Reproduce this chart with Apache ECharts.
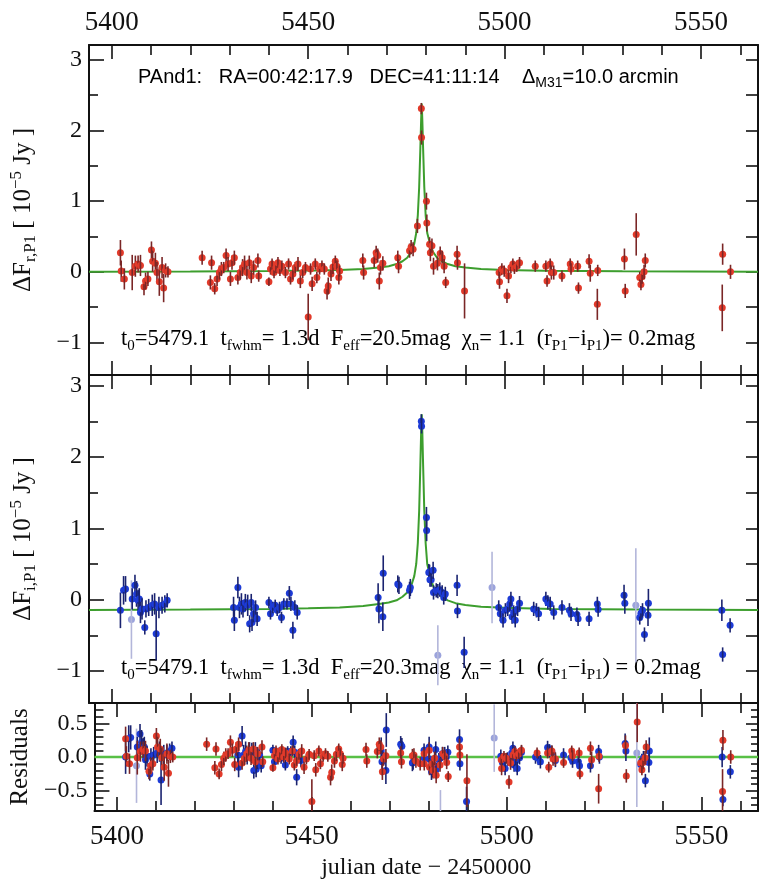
<!DOCTYPE html>
<html>
<head>
<meta charset="utf-8">
<script src="https://cdn.jsdelivr.net/npm/echarts@6/dist/echarts.min.js"></script>
<style>
  html, body { margin: 0; padding: 0; background: #fff; }
  #chart { width: 759px; height: 881px; }
</style>
</head>
<body>
<div id="chart"></div>
<script>
// light curve of PAnd1: [jd, flux, err, residual]
const redPts = [
  [5402.2, 0.27, 0.18, 0.27], [5402.4, 0.01, 0.15, 0.01], [5403.2, -0.10, 0.15, -0.10],
  [5405.2, -0.01, 0.25, -0.01], [5406.0, 0.08, 0.15, 0.08], [5406.7, 0.11, 0.12, 0.11],
  [5407.3, 0.09, 0.15, 0.09], [5408.2, -0.21, 0.12, -0.21], [5408.6, -0.13, 0.12, -0.13],
  [5409.2, -0.10, 0.10, -0.10], [5410.1, 0.31, 0.12, 0.31], [5410.4, 0.15, 0.15, 0.15],
  [5411.1, 0.12, 0.15, 0.12], [5411.5, -0.01, 0.15, -0.01], [5412.1, -0.14, 0.20, -0.15],
  [5412.8, 0.06, 0.15, 0.05], [5413.2, -0.23, 0.20, -0.24], [5413.7, 0.02, 0.10, 0.01],
  [5414.3, 0.00, 0.08, 0.00],
  [5423.0, 0.20, 0.10, 0.19], [5425.1, -0.15, 0.10, -0.16], [5425.4, 0.13, 0.10, 0.12],
  [5426.2, -0.24, 0.08, -0.25], [5426.8, -0.10, 0.10, -0.11], [5427.4, -0.01, 0.10, -0.02],
  [5427.9, 0.04, 0.10, 0.03], [5428.5, 0.06, 0.08, 0.05], [5429.1, 0.23, 0.10, 0.22],
  [5429.6, 0.11, 0.10, 0.10], [5430.2, -0.10, 0.10, -0.11], [5430.6, 0.13, 0.10, 0.12],
  [5431.2, 0.20, 0.10, 0.19], [5432.1, -0.08, 0.10, -0.09], [5432.7, -0.01, 0.10, -0.02],
  [5433.3, 0.06, 0.12, 0.05], [5433.8, 0.11, 0.12, 0.10], [5434.4, -0.01, 0.10, -0.02],
  [5435.0, 0.13, 0.10, 0.12], [5435.5, -0.06, 0.10, -0.07], [5436.1, 0.06, 0.10, 0.05],
  [5437.2, 0.16, 0.10, 0.15], [5437.4, -0.06, 0.08, -0.07],
  [5440.0, -0.14, 0.06, -0.16], [5440.4, 0.04, 0.08, 0.02], [5440.8, 0.11, 0.08, 0.09],
  [5441.3, -0.01, 0.08, -0.03], [5441.8, 0.06, 0.08, 0.04], [5442.3, 0.13, 0.08, 0.11],
  [5442.8, 0.02, 0.08, 0.00], [5443.3, 0.08, 0.08, 0.06], [5444.2, -0.01, 0.08, -0.03],
  [5445.0, 0.11, 0.08, 0.09], [5445.5, -0.10, 0.08, -0.12], [5446.1, -0.03, 0.08, -0.05],
  [5446.7, 0.06, 0.08, 0.04], [5447.4, 0.11, 0.10, 0.09], [5448.0, -0.13, 0.10, -0.15],
  [5448.6, -0.01, 0.08, -0.03], [5449.3, 0.06, 0.08, 0.04], [5450.0, -0.64, 0.33, -0.66],
  [5450.6, 0.04, 0.08, 0.02], [5451.0, -0.17, 0.10, -0.19], [5451.8, 0.11, 0.08, 0.09],
  [5452.2, -0.08, 0.08, -0.10], [5452.9, 0.04, 0.08, 0.01], [5453.5, 0.08, 0.08, 0.05],
  [5454.1, 0.04, 0.08, 0.01], [5454.8, -0.27, 0.12, -0.30], [5455.1, -0.20, 0.12, -0.23],
  [5455.8, -0.03, 0.10, -0.06], [5456.3, 0.07, 0.10, 0.04], [5456.9, 0.15, 0.08, 0.12],
  [5457.3, 0.08, 0.08, 0.05], [5457.8, -0.08, 0.10, -0.11], [5458.0, 0.01, 0.08, -0.02],
  [5463.9, 0.16, 0.10, 0.11], [5464.1, -0.01, 0.10, -0.06], [5466.8, 0.16, 0.10, 0.08],
  [5467.3, 0.27, 0.10, 0.19], [5467.7, 0.23, 0.10, 0.15], [5468.1, -0.13, 0.12, -0.22],
  [5468.4, 0.06, 0.10, -0.03], [5469.0, 0.12, 0.10, 0.02], [5472.8, 0.20, 0.10, 0.06],
  [5473.0, 0.08, 0.10, -0.07], [5475.8, 0.30, 0.10, 0.02], [5476.2, 0.35, 0.10, 0.03],
  [5476.7, 0.32, 0.10, -0.06], [5477.8, 0.65, 0.10, -0.10],
  [5478.8, 2.31, 0.08, 0.05], [5478.85, 1.90, 0.10, -0.10],
  [5480.1, 1.00, 0.12, 0.10], [5480.2, 0.69, 0.12, -0.15], [5480.9, 0.39, 0.10, -0.10],
  [5481.1, 0.27, 0.12, -0.20], [5481.5, 0.37, 0.10, -0.02], [5481.9, 0.08, 0.12, -0.27],
  [5482.9, 0.12, 0.10, -0.12], [5483.6, 0.26, 0.10, 0.05], [5484.1, 0.20, 0.10, 0.01],
  [5484.6, 0.08, 0.10, -0.08], [5485.0, -0.15, 0.08, -0.29], [5487.9, 0.25, 0.12, 0.15],
  [5488.0, 0.13, 0.10, 0.03], [5489.8, -0.27, 0.39, -0.35],
  [5498.6, -0.01, 0.08, -0.04], [5498.7, -0.14, 0.10, -0.17], [5499.3, 0.04, 0.08, 0.01],
  [5499.9, 0.01, 0.08, -0.02], [5500.6, -0.34, 0.10, -0.37], [5501.0, -0.06, 0.10, -0.09],
  [5501.6, 0.06, 0.08, 0.03], [5502.1, 0.11, 0.08, 0.08], [5502.5, 0.05, 0.08, 0.02],
  [5503.1, 0.08, 0.08, 0.05], [5503.8, 0.13, 0.08, 0.10], [5507.8, 0.08, 0.08, 0.06],
  [5510.5, 0.08, 0.08, 0.06], [5510.8, -0.13, 0.08, -0.15], [5511.6, 0.11, 0.08, 0.09],
  [5511.9, -0.01, 0.10, -0.03], [5512.5, -0.01, 0.10, -0.03], [5514.6, -0.06, 0.08, -0.08],
  [5516.7, 0.11, 0.08, 0.09], [5516.9, 0.04, 0.08, 0.02], [5518.6, 0.08, 0.08, 0.06],
  [5518.8, -0.23, 0.08, -0.25], [5521.5, 0.15, 0.10, 0.13], [5521.8, -0.02, 0.12, -0.04],
  [5523.7, 0.02, 0.08, 0.01], [5523.6, -0.46, 0.22, -0.47], [5530.5, 0.18, 0.15, 0.17],
  [5530.7, -0.27, 0.10, -0.28], [5533.5, 0.53, 0.30, 0.52], [5534.4, -0.08, 0.08, -0.09],
  [5534.7, -0.18, 0.08, -0.19], [5535.0, -0.07, 0.10, -0.08], [5535.5, 0.00, 0.10, -0.01],
  [5535.8, 0.16, 0.10, 0.15], [5555.5, 0.25, 0.15, 0.25], [5555.4, -0.51, 0.33, -0.51],
  [5557.5, 0.00, 0.10, 0.00]
];

const bluePts = [
  [5402.2, -0.15, 0.25, 0.00], [5403.0, 0.13, 0.20, 0.27], [5403.5, 0.15, 0.18, 0.29],
  [5405.2, 0.01, 0.15, 0.15], [5405.9, 0.20, 0.15, 0.34], [5406.3, 0.08, 0.18, 0.22],
  [5406.7, -0.01, 0.15, 0.13], [5407.0, 0.01, 0.15, 0.15], [5407.3, -0.18, 0.15, -0.04],
  [5407.7, -0.13, 0.15, 0.01], [5408.4, -0.39, 0.10, -0.25], [5408.7, -0.13, 0.12, 0.01],
  [5409.4, -0.11, 0.12, 0.03], [5410.3, -0.08, 0.15, 0.06], [5410.9, -0.06, 0.15, 0.08],
  [5411.3, -0.48, 0.37, -0.34], [5412.0, -0.11, 0.15, 0.03], [5412.8, -0.08, 0.12, 0.06],
  [5413.5, -0.06, 0.12, 0.08], [5414.1, -0.01, 0.10, 0.13],
  [5431.0, -0.11, 0.15, 0.03], [5431.2, -0.29, 0.15, -0.15], [5432.1, 0.17, 0.15, 0.31],
  [5432.5, -0.11, 0.15, 0.03], [5433.0, -0.06, 0.15, 0.08], [5433.4, -0.13, 0.12, 0.01],
  [5434.0, -0.04, 0.12, 0.10], [5434.6, -0.08, 0.15, 0.06], [5435.1, -0.34, 0.12, -0.20],
  [5435.5, -0.04, 0.12, 0.10], [5435.7, -0.32, 0.12, -0.18], [5436.1, -0.20, 0.12, -0.06],
  [5436.6, -0.11, 0.10, 0.03], [5437.0, -0.27, 0.10, -0.13],
  [5440.0, -0.04, 0.08, 0.10], [5440.4, -0.20, 0.08, -0.07], [5441.0, -0.11, 0.08, 0.03],
  [5441.6, -0.08, 0.08, 0.06], [5442.1, -0.15, 0.08, -0.02], [5442.7, -0.11, 0.08, 0.03],
  [5443.2, -0.25, 0.08, -0.12], [5443.8, -0.06, 0.08, 0.08], [5444.6, -0.06, 0.08, 0.08],
  [5445.2, 0.09, 0.10, 0.22], [5445.6, -0.06, 0.10, 0.07], [5446.1, -0.43, 0.12, -0.30],
  [5446.6, -0.11, 0.10, 0.02], [5447.2, -0.18, 0.10, -0.05],
  [5467.8, 0.03, 0.20, 0.09], [5468.0, -0.13, 0.20, -0.07], [5469.0, -0.24, 0.20, -0.20],
  [5469.1, 0.37, 0.25, 0.40], [5472.8, 0.22, 0.12, 0.19], [5473.1, 0.20, 0.12, 0.16],
  [5475.8, 0.13, 0.12, -0.09], [5476.0, 0.17, 0.12, -0.07],
  [5478.8, 2.50, 0.10, 0.10], [5478.85, 2.43, 0.10, -0.02],
  [5480.1, 1.15, 0.15, 0.15], [5480.15, 0.97, 0.15, -0.03], [5480.7, 0.38, 0.12, -0.22],
  [5480.9, 0.39, 0.10, -0.11], [5481.0, 0.28, 0.10, -0.20], [5481.3, 0.28, 0.10, -0.12],
  [5481.8, 0.41, 0.12, 0.11], [5481.9, 0.10, 0.10, -0.19], [5482.6, 0.13, 0.10, -0.04],
  [5483.0, 0.12, 0.10, -0.01], [5483.5, 0.14, 0.10, 0.05], [5484.1, 0.10, 0.10, 0.05],
  [5484.5, 0.03, 0.10, 0.00], [5484.9, 0.08, 0.10, 0.07], [5487.9, 0.20, 0.15, 0.26],
  [5488.0, -0.16, 0.10, -0.10], [5489.7, -0.74, 0.22, -0.66],
  [5498.5, -0.11, 0.10, 0.01], [5498.9, -0.20, 0.10, -0.08], [5499.6, -0.29, 0.10, -0.17],
  [5500.2, -0.15, 0.10, -0.03], [5500.8, -0.13, 0.10, -0.01], [5501.3, -0.06, 0.10, 0.06],
  [5501.6, 0.01, 0.10, 0.13], [5501.9, -0.24, 0.10, -0.12], [5502.3, -0.18, 0.10, -0.06],
  [5502.7, -0.29, 0.10, -0.17], [5503.3, -0.13, 0.10, -0.01], [5503.8, -0.05, 0.10, 0.07],
  [5507.4, -0.13, 0.10, 0.00], [5508.1, -0.15, 0.10, -0.02], [5508.65, -0.20, 0.10, -0.07],
  [5510.5, 0.01, 0.10, 0.14], [5511.0, -0.04, 0.10, 0.09], [5511.6, -0.06, 0.10, 0.07],
  [5512.5, -0.18, 0.10, -0.05], [5514.6, -0.11, 0.10, 0.03], [5516.5, -0.15, 0.10, -0.01],
  [5516.9, -0.20, 0.10, -0.06], [5518.4, -0.21, 0.10, -0.07], [5518.7, -0.27, 0.10, -0.13],
  [5521.5, -0.27, 0.10, -0.13], [5523.6, -0.06, 0.10, 0.08], [5523.8, -0.14, 0.10, 0.00],
  [5530.4, 0.06, 0.15, 0.20], [5530.6, -0.05, 0.15, 0.09],
  [5534.4, -0.25, 0.10, -0.11], [5534.7, -0.19, 0.10, -0.05], [5535.1, -0.15, 0.10, -0.01],
  [5535.6, -0.49, 0.10, -0.35], [5536.5, -0.22, 0.15, -0.08], [5536.6, -0.05, 0.20, 0.09],
  [5555.3, -0.15, 0.15, 0.00], [5555.5, -0.77, 0.10, -0.63], [5557.4, -0.36, 0.10, -0.22]
];

// low-weight i-band points drawn faded
const faintPts = [
  [5405.0, -0.28, 0.55, -0.13], [5483.0, -0.78, 0.42, -0.91],
  [5496.8, 0.17, 0.50, 0.28], [5533.4, -0.08, 0.80, 0.06]
];

// fitted model curves: [jd, flux]
const rModel = [
  [5394.2, 0.0], [5420, 0.005], [5440, 0.012], [5452, 0.018], [5458, 0.025], [5464, 0.04],
  [5468, 0.06], [5470.5, 0.08], [5472.5, 0.11], [5474, 0.15], [5475.2, 0.2], [5476.2, 0.28],
  [5477.0, 0.4], [5477.5, 0.55], [5477.9, 0.8], [5478.25, 1.2], [5478.55, 1.75], [5478.75, 2.15],
  [5478.9, 2.38], [5479.05, 2.15], [5479.25, 1.75], [5479.55, 1.2], [5479.9, 0.8], [5480.3, 0.55],
  [5481.0, 0.4], [5481.8, 0.28], [5482.8, 0.2], [5484, 0.15], [5485.5, 0.11], [5487.5, 0.08],
  [5490, 0.06], [5494, 0.04], [5500, 0.025], [5510, 0.015], [5530, 0.007], [5564.5, 0.0]
];
const iModel = [
  [5394.2, -0.145], [5420, -0.14], [5440, -0.13], [5450, -0.12], [5458, -0.11], [5464, -0.09],
  [5468, -0.06], [5470.5, -0.04], [5472.5, -0.01], [5474, 0.04], [5475.2, 0.1], [5476.2, 0.19],
  [5477.0, 0.33], [5477.5, 0.5], [5477.9, 0.79], [5478.25, 1.25], [5478.55, 1.89], [5478.75, 2.35],
  [5478.9, 2.6], [5479.05, 2.35], [5479.25, 1.89], [5479.55, 1.25], [5479.9, 0.79], [5480.3, 0.5],
  [5481.0, 0.33], [5481.8, 0.19], [5482.8, 0.1], [5484, 0.04], [5485.5, -0.01], [5487.5, -0.05],
  [5490, -0.075], [5494, -0.1], [5500, -0.115], [5512, -0.13], [5535, -0.14], [5564.5, -0.145]
];
const residZero = [[5394.2, 0], [5564.5, 0]];

// axes
const X_MIN = 5394.2, X_MAX = 5564.5;
const xLabelVals = [5400, 5450, 5500, 5550];
const xMinorVals = [5410, 5420, 5430, 5440, 5460, 5470, 5480, 5490, 5510, 5520, 5530, 5540, 5560];
const fluxMajor = [-1, 0, 1, 2, 3];
const fluxMinor = [-0.5, 0.5, 1.5, 2.5];
const fluxAll = [-1, -0.5, 0, 0.5, 1, 1.5, 2, 2.5, 3];
const resMajor = [-0.5, 0, 0.5];
const resMinor = [-0.7, -0.6, -0.4, -0.3, -0.2, -0.1, 0.1, 0.2, 0.3, 0.4, 0.6, 0.7];

const SERIF = "'Liberation Serif', 'DejaVu Serif', serif";
const SANS = "'Liberation Sans', 'DejaVu Sans', sans-serif";
const INK = '#111';

const RED = '#e23a2a', RED_BAR = '#7a2626';
const BLUE = '#1d3bd6', BLUE_BAR = '#1a2370';
const FAINT = '#9ba3dc', FAINT_BAR = '#b3b6da';
const GREEN = '#3d9e2e', GREEN_RES = '#58c046';

const richSet = (size, family) => {
  const small = Math.round(size * 0.68);
  return {
    m: { fontFamily: family, fontSize: size, lineHeight: size + 6, color: INK },
    s: { fontFamily: family, fontSize: small, lineHeight: small, verticalAlign: 'bottom', color: INK },
    u: { fontFamily: family, fontSize: small, lineHeight: small, verticalAlign: 'top', color: INK }
  };
};

const minus = (v) => String(v).replace('-', '\u2212');

const xAxesFor = (g, labelPos, name) => {
  const mk = (pos, vals, len, line, label) => ({
    gridIndex: g, type: 'value', position: pos, min: X_MIN, max: X_MAX,
    splitLine: { show: false },
    axisLine: { show: line, onZero: false, lineStyle: { color: INK, width: 2 } },
    axisTick: { show: true, inside: true, length: len, customValues: vals, lineStyle: { color: INK, width: 1.6 } },
    axisLabel: label
      ? { show: true, customValues: xLabelVals, formatter: v => String(v),
          margin: pos === 'top' ? 9 : 12, fontFamily: SERIF, fontSize: 27, color: INK }
      : { show: false },
    name: label && name ? name : '',
    nameLocation: 'middle',
    nameGap: 45,
    nameTextStyle: { fontFamily: SERIF, fontSize: 24, color: INK }
  });
  return [
    mk('top', xLabelVals, 14, true, labelPos === 'top'),
    mk('top', xMinorVals, 10, false, false),
    mk('bottom', xLabelVals, 14, true, labelPos === 'bottom'),
    mk('bottom', xMinorVals, 10, false, false)
  ];
};

const yAxesFor = (g, min, max, major, minor, rightMajor, rightMinor, fmt, name) => {
  const mk = (pos, vals, len, line, label) => ({
    gridIndex: g, type: 'value', position: pos, min: min, max: max,
    splitLine: { show: false },
    axisLine: { show: line, lineStyle: { color: INK, width: 2 } },
    axisTick: { show: vals.length > 0, inside: true, length: len, customValues: vals, lineStyle: { color: INK, width: 1.6 } },
    axisLabel: label
      ? { show: true, customValues: major, margin: 7, formatter: fmt, fontFamily: SERIF, fontSize: 24, color: INK }
      : { show: false },
    name: label ? name : '',
    nameLocation: 'middle',
    nameRotate: 90,
    nameGap: 50,
    nameTextStyle: { fontFamily: SERIF, fontSize: 25, color: INK, rich: richSet(25, SERIF) }
  });
  return [
    mk('left', major, 15, true, true),
    mk('left', minor, 9, false, false),
    mk('right', rightMajor, 12, true, false),
    mk('right', rightMinor, 7, false, false)
  ];
};

// point with vertical error bar, clipped to its panel
const errItem = (dot, bar) => (params, api) => {
  const x = api.value(0), y = api.value(1), e = api.value(2);
  const c = api.coord([x, y]);
  const hi = api.coord([x, y + e]);
  const lo = api.coord([x, y - e]);
  const cs = params.coordSys;
  const top = cs.y, bot = cs.y + cs.height;
  const y1 = Math.max(top, Math.min(bot, hi[1]));
  const y2 = Math.max(top, Math.min(bot, lo[1]));
  const children = [];
  if (c[1] >= top && c[1] <= bot) {
    children.push({ type: 'circle', shape: { cx: c[0], cy: c[1], r: 3.5 }, style: { fill: dot } });
  }
  if (y2 > y1) {
    children.push({ type: 'line', shape: { x1: c[0], y1: y1, x2: c[0], y2: y2 }, style: { stroke: bar, lineWidth: 1.6 } });
  }
  return { type: 'group', children: children };
};

const pointSeries = (g, rows, col, dot, bar) => ({
  type: 'custom',
  xAxisIndex: 4 * g + 2,
  yAxisIndex: 4 * g,
  renderItem: errItem(dot, bar),
  encode: { x: 0, y: 1 },
  data: rows.map(p => [p[0], p[col], p[2]]),
  z: 3
});

const lineSeries = (g, data, color, width) => ({
  type: 'line',
  xAxisIndex: 4 * g + 2,
  yAxisIndex: 4 * g,
  data: data,
  showSymbol: false,
  lineStyle: { color: color, width: width },
  z: 2
});

const chart = echarts.init(document.getElementById('chart'), null, { renderer: 'canvas' });

const annoR = '{m|t}{s|0}{m|=5479.1  t}{s|fwhm}{m|= 1.3d  F}{s|eff}{m|=20.5mag  \u03c7}{s|n}{m|= 1.1  (r}{s|P1}{m|\u2212i}{s|P1}{m|)= 0.2mag}';
const annoI = '{m|t}{s|0}{m|=5479.1  t}{s|fwhm}{m|= 1.3d  F}{s|eff}{m|=20.3mag  \u03c7}{s|n}{m|= 1.1  (r}{s|P1}{m|\u2212i}{s|P1}{m|) = 0.2mag}';
const header = '{m|PAnd1:   RA=00:42:17.9   DEC=41:11:14    \u0394}{s|M31}{m|=10.0 arcmin}';

chart.setOption({
  animation: false,
  backgroundColor: '#fff',
  grid: [
    { left: 89, right: 1, top: 45, height: 330 },
    { left: 89, right: 1, top: 375, height: 328 },
    { left: 89, right: 1, top: 703, height: 110 }
  ],
  xAxis: [
    ...xAxesFor(0, 'top'),
    ...xAxesFor(1, null),
    ...xAxesFor(2, 'bottom', 'julian date \u2212 2450000')
  ],
  yAxis: [
    ...yAxesFor(0, -1.46, 3.21, fluxMajor, fluxMinor, fluxAll, [], minus,
      '{m|\u0394F}{s|r,P1}{m| [ 10}{u|\u22125}{m| Jy ]}'),
    ...yAxesFor(1, -1.45, 3.15, fluxMajor, fluxMinor, fluxAll, [], minus,
      '{m|\u0394F}{s|i,P1}{m| [ 10}{u|\u22125}{m| Jy ]}'),
    ...yAxesFor(2, -0.8, 0.8, resMajor, resMinor, resMajor, resMinor,
      v => minus(v.toFixed(1)), '{m|Residuals}')
  ],
  graphic: [
    { type: 'text', left: 138, top: 67, style: { text: header, rich: richSet(20, SANS) } },
    { type: 'text', left: 121, top: 328, style: { text: annoR, rich: richSet(22.5, SERIF) } },
    { type: 'text', left: 121, top: 657, style: { text: annoI, rich: richSet(22.5, SERIF) } }
  ],
  series: [
    lineSeries(0, rModel, GREEN, 2),
    pointSeries(0, redPts, 1, RED, RED_BAR),
    lineSeries(1, iModel, GREEN, 2),
    pointSeries(1, faintPts, 1, FAINT, FAINT_BAR),
    pointSeries(1, bluePts, 1, BLUE, BLUE_BAR),
    lineSeries(2, residZero, GREEN_RES, 2.5),
    pointSeries(2, faintPts, 3, FAINT, FAINT_BAR),
    pointSeries(2, bluePts, 3, BLUE, BLUE_BAR),
    pointSeries(2, redPts, 3, RED, RED_BAR)
  ]
});
</script>
</body>
</html>
